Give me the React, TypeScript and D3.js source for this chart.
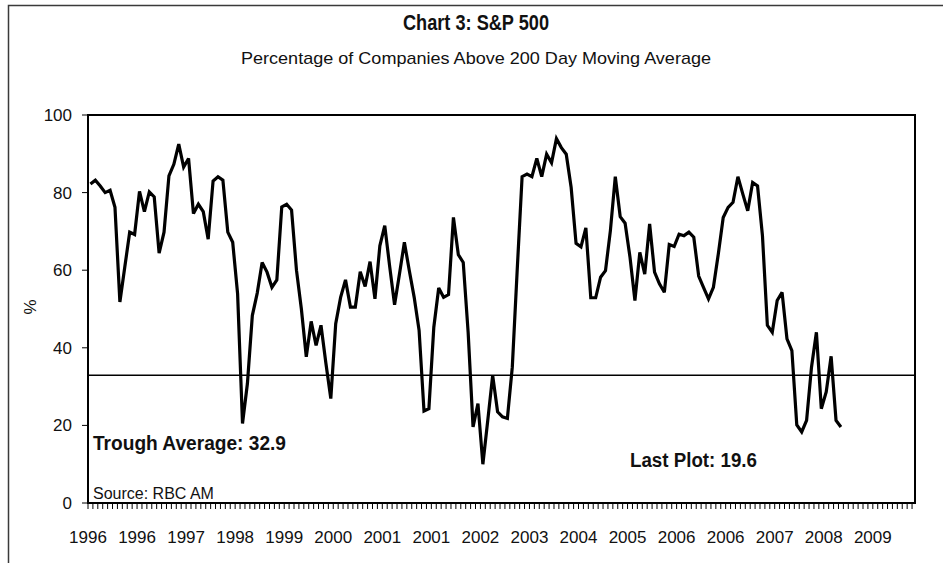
import React from "react";
import * as d3 from "d3";

// Monthly readings, Jan 1996 onward (% of S&P 500 companies above 200-day MA)
const monthlyValues: number[] = [
  82.2, 83.2, 81.7, 80.0, 80.6, 76.2, 51.8, 60.8, 69.8, 69.2,
  80.3, 75.1, 80.2, 78.9, 64.4, 69.8, 84.3, 87.3, 92.5, 86.6,
  88.8, 74.6, 77.0, 75.1, 68.0, 83.0, 84.1, 83.2, 69.8, 67.2,
  53.9, 20.5, 30.8, 48.3, 54.1, 62.0, 59.5, 55.6, 57.5, 76.3,
  77.0, 75.5, 60.0, 50.0, 37.7, 46.8, 40.6, 45.8, 36.0, 26.9,
  46.2, 53.0, 57.5, 50.5, 50.5, 59.6, 55.8, 62.2, 52.6, 66.3,
  71.5, 61.0, 51.1, 59.0, 67.2, 59.9, 53.0, 44.5, 23.7, 24.3,
  45.3, 55.4, 53.0, 53.7, 73.6, 64.0, 62.0, 44.0, 19.6, 25.6,
  10.0, 21.3, 32.9, 23.5, 22.2, 21.8, 35.0, 60.0, 84.1, 84.8,
  84.1, 88.8, 84.1, 89.9, 87.7, 93.9, 91.6, 89.9, 81.3, 66.9,
  66.0, 70.9, 52.9, 52.9, 58.2, 59.9, 70.2, 84.1, 73.8, 72.1,
  63.3, 52.2, 64.6, 59.0, 71.9, 59.5, 56.5, 54.3, 66.6, 66.1,
  69.3, 68.9, 69.8, 68.5, 58.5, 55.5, 52.6, 55.6, 64.2, 73.6,
  76.2, 77.5, 84.1, 79.6, 75.3, 82.6, 81.7, 68.9, 45.8, 44.0,
  52.2, 54.3, 42.3, 39.3, 20.1, 18.3, 21.3, 35.0, 44.0, 24.3,
  28.6, 37.8, 21.3, 19.6,
];

const xTickLabels: string[] = [
  "1996", "1996", "1997", "1998", "1999", "2000", "2001", "2001", "2002",
  "2003", "2004", "2005", "2006", "2006", "2007", "2008", "2009",
];
const yTickValues: number[] = [0, 20, 40, 60, 80, 100];
const troughAverage = 32.9;
const axisMonths = 168.6; // axis length in months (Jan 1996 to mid Jan 2010)
const labelInterval = 10; // one label every 10 months

const chartTitle = "Chart 3: S&P 500";
const chartSubtitle = "Percentage of Companies Above 200 Day Moving Average";
const troughLabel = "Trough Average: 32.9";
const lastLabel = "Last Plot: 19.6";
const sourceLabel = "Source: RBC AM";
const yAxisTitle = "%";

const SANS = "'Liberation Sans', Arial, Helvetica, sans-serif";
const NARROW = "'Liberation Sans Narrow', 'Arial Narrow', 'Liberation Sans', Arial, sans-serif";

export default function App() {
  const W = 943;
  const H = 563;
  const left = 88;
  const right = 915;
  const top = 115;
  const bottom = 503;

  // month index (boundary) -> pixel
  const x = d3.scaleLinear().domain([0, axisMonths]).range([left, right]);
  const y = d3.scaleLinear().domain([0, 100]).range([bottom, top]);

  const linePath =
    d3
      .line<number>()
      .x((_, i) => x(i + 0.5))
      .y((d) => y(d))(monthlyValues) || "";

  const minorTicks = d3.range(0, Math.floor(axisMonths) + 1).map((m) => x(m));

  return (
    <svg
      width={W}
      height={H}
      viewBox={`0 0 ${W} ${H}`}
      style={{ position: "absolute", left: 0, top: 0, background: "#fff" }}
    >
      <rect x={0} y={0} width={W} height={H} fill="#fff" />
      {/* outer frame */}
      <rect x={8.5} y={5.5} width={W + 20} height={H + 20} fill="none" stroke="#3a3a3a" strokeWidth={1.5} />

      {/* titles */}
      <text
        x={476}
        y={30}
        textAnchor="middle"
        fontFamily={NARROW}
        fontWeight="bold"
        fontSize={22}
        textLength={146}
        lengthAdjust="spacingAndGlyphs"
        fill="#111"
      >
        {chartTitle}
      </text>
      <text
        x={476}
        y={64}
        textAnchor="middle"
        fontFamily={NARROW}
        fontSize={17}
        textLength={470}
        lengthAdjust="spacingAndGlyphs"
        fill="#111"
      >
        {chartSubtitle}
      </text>

      {/* y axis ticks and labels */}
      {yTickValues.map((v) => (
        <g key={`y${v}`}>
          <line x1={82} x2={left} y1={y(v)} y2={y(v)} stroke="#000" strokeWidth={1} />
          <text x={72} y={y(v) + 6} textAnchor="end" fontFamily={SANS} fontSize={17} fill="#111">
            {v}
          </text>
        </g>
      ))}
      <text
        transform={`translate(36, 307) rotate(-90)`}
        textAnchor="middle"
        fontFamily={SANS}
        fontSize={17}
        fill="#111"
      >
        {yAxisTitle}
      </text>

      {/* x minor ticks (one per month) */}
      {minorTicks.map((tx, k) => (
        <line key={`t${k}`} x1={tx} x2={tx} y1={bottom} y2={bottom + 6} stroke="#000" strokeWidth={1} />
      ))}
      {xTickLabels.map((lab, k) => (
        <text
          key={`xl${k}`}
          x={x(k * labelInterval)}
          y={543}
          textAnchor="middle"
          fontFamily={SANS}
          fontSize={17}
          fill="#111"
        >
          {lab}
        </text>
      ))}

      {/* trough average line */}
      <line x1={left} x2={right} y1={y(troughAverage)} y2={y(troughAverage)} stroke="#000" strokeWidth={1.5} />

      {/* data line */}
      <path d={linePath} fill="none" stroke="#000" strokeWidth={3.2} strokeLinejoin="miter" strokeMiterlimit={3} />

      {/* plot border */}
      <rect x={left} y={top} width={right - left} height={bottom - top} fill="none" stroke="#000" strokeWidth={2} />

      {/* annotations */}
      <text
        x={93}
        y={450}
        fontFamily={SANS}
        fontWeight="bold"
        fontSize={20}
        textLength={193}
        lengthAdjust="spacingAndGlyphs"
        fill="#111"
      >
        {troughLabel}
      </text>
      <text
        x={630}
        y={467}
        fontFamily={SANS}
        fontWeight="bold"
        fontSize={20}
        textLength={127}
        lengthAdjust="spacingAndGlyphs"
        fill="#111"
      >
        {lastLabel}
      </text>
      <text x={93} y={499} fontFamily={SANS} fontSize={16} fill="#111">
        {sourceLabel}
      </text>
    </svg>
  );
}
